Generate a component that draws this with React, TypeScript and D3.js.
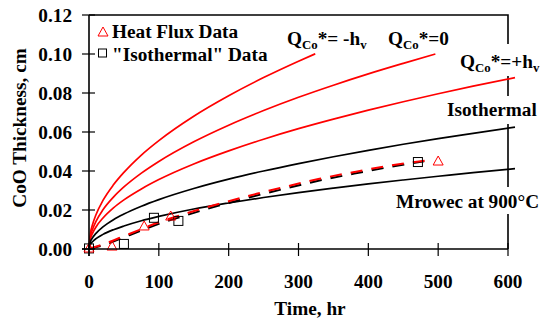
import React from 'react';
import * as d3 from 'd3';

// curve readings (time hr, thickness cm)
const negHvCurve: [number, number][] = [
  [0, 0], [2, 0.0079], [5, 0.0124], [10, 0.0176], [20, 0.0249], [35, 0.0329], [50, 0.0393],
  [75, 0.0482], [100, 0.0556], [150, 0.0681], [200, 0.0786], [250, 0.0879], [300, 0.0963], [324, 0.1001],
];
const zeroCurve: [number, number][] = [
  [0, 0], [2, 0.0064], [5, 0.01], [10, 0.0142], [20, 0.0201], [35, 0.0266], [50, 0.0318], [75, 0.0389],
  [100, 0.0449], [150, 0.055], [200, 0.0635], [250, 0.071], [300, 0.0778], [350, 0.084], [400, 0.0898],
  [450, 0.0952], [496, 0.1],
];
const posHvCurve: [number, number][] = [
  [0, 0], [2, 0.005], [5, 0.008], [10, 0.0113], [20, 0.0159], [35, 0.0211], [50, 0.0252], [75, 0.0308],
  [100, 0.0356], [150, 0.0436], [200, 0.0503], [250, 0.0563], [300, 0.0617], [350, 0.0666], [400, 0.0712],
  [450, 0.0755], [500, 0.0796], [550, 0.0835], [610, 0.0879],
];
const isothermalCurve: [number, number][] = [
  [0, 0], [2, 0.0036], [5, 0.0057], [10, 0.008], [20, 0.0113], [35, 0.015], [50, 0.0179], [75, 0.0219],
  [100, 0.0253], [150, 0.031], [200, 0.0358], [250, 0.04], [300, 0.0438], [350, 0.0473], [400, 0.0506],
  [450, 0.0537], [500, 0.0566], [550, 0.0593], [610, 0.0625],
];
const mrowecCurve: [number, number][] = [
  [0, 0], [2, 0.0024], [5, 0.0037], [10, 0.0053], [20, 0.0075], [35, 0.0099], [50, 0.0118], [75, 0.0145],
  [100, 0.0167], [150, 0.0205], [200, 0.0236], [250, 0.0264], [300, 0.0289], [350, 0.0312], [400, 0.0334],
  [450, 0.0354], [500, 0.0373], [550, 0.0392], [610, 0.0412],
];
const heatFluxFit: [number, number][] = [
  [0, 0], [25, 0.003], [50, 0.0066], [75, 0.0102], [100, 0.0137], [130, 0.0172], [165, 0.021], [200, 0.0245],
  [240, 0.0283], [280, 0.0318], [330, 0.036], [380, 0.0395], [430, 0.0427], [485, 0.0455],
];
const isothermalFit: [number, number][] = [
  [0, 0], [25, 0.0025], [50, 0.006], [75, 0.0095], [100, 0.0129], [130, 0.0163], [165, 0.0201], [200, 0.0236],
  [240, 0.0274], [280, 0.0309], [330, 0.0351], [380, 0.0387], [430, 0.042], [480, 0.045],
];

// measured points
const heatFluxData: [number, number][] = [[0, 0], [33, 0.001], [79, 0.0113], [117, 0.0164], [500, 0.0446]];
const isothermalData: [number, number][] = [[0, 0.0003], [50, 0.0026], [93, 0.016], [128, 0.0144], [471, 0.0446]];

const xTicks = [0, 100, 200, 300, 400, 500, 600];
const yTicks = [0, 0.02, 0.04, 0.06, 0.08, 0.1, 0.12];

const W = 542;
const H = 327;
const margin = { top: 15, right: 34, bottom: 78, left: 89 };
const FONT = '"Liberation Serif", "Times New Roman", serif';
const SX = 1.07;

const Txt = ({ x, y, anchor = 'start', size = 18, children }: any) => (
  <g transform={`translate(${x},${y}) scale(${SX},1)`}>
    <text textAnchor={anchor} fontFamily={FONT} fontWeight="bold" fontSize={size} fill="#000">
      {children}
    </text>
  </g>
);

const QLabel = ({ x, y, tail, sub }: any) => (
  <Txt x={x} y={y}>
    <tspan>Q</tspan>
    <tspan fontSize={12} dy={4}>Co</tspan>
    <tspan fontSize={18} dy={-4}>{tail}</tspan>
    {sub ? <tspan fontSize={12} dy={4}>v</tspan> : null}
  </Txt>
);

const App = () => {
  const x = d3.scaleLinear().domain([0, 600]).range([margin.left, W - margin.right]);
  const y = d3.scaleLinear().domain([0, 0.12]).range([H - margin.bottom, margin.top]);
  const line = d3.line<[number, number]>()
    .x(d => x(d[0]))
    .y(d => y(d[1]))
    .curve(d3.curveMonotoneX);

  const x0 = x(0), x1 = x(600), y0 = y(0), y1 = y(0.12);

  const tri = (cx: number, cy: number) => `M${cx},${cy - 5} L${cx + 5},${cy + 4} L${cx - 5},${cy + 4} Z`;

  return (
    <svg width={W} height={H} style={{ position: 'absolute', left: 0, top: 0, background: '#fff' }}>
      {/* frame */}
      <path d={`M${x0},${y1} L${x1},${y1} L${x1},${y0}`} fill="none" stroke="#000" strokeWidth={1.6} />

      {/* label backgrounds that break the right frame */}
      <rect x={456} y={44} width={86} height={32} fill="#fff" />
      <rect x={444} y={96} width={98} height={28} fill="#fff" />
      <rect x={393} y={187} width={149} height={27} fill="#fff" />

      {/* model curves */}
      <path d={line(negHvCurve)!} fill="none" stroke="#ff0000" strokeWidth={1.7} />
      <path d={line(zeroCurve)!} fill="none" stroke="#ff0000" strokeWidth={1.7} />
      <path d={line(posHvCurve)!} fill="none" stroke="#ff0000" strokeWidth={1.7} />
      <path d={line(isothermalCurve)!} fill="none" stroke="#000" strokeWidth={1.7} />
      <path d={line(mrowecCurve)!} fill="none" stroke="#000" strokeWidth={1.7} />

      {/* fits to data */}
      <path d={line(isothermalFit)!} fill="none" stroke="#000" strokeWidth={2} strokeDasharray="12,9" />
      <path d={line(heatFluxFit)!} fill="none" stroke="#ff0000" strokeWidth={2} strokeDasharray="12,9" />

      {/* data markers */}
      {isothermalData.map((d, i) => (
        <rect key={'s' + i} x={x(d[0]) - 4.5} y={y(d[1]) - 4.5} width={9} height={9}
          fill="none" stroke="#000" strokeWidth={1} />
      ))}
      {heatFluxData.map((d, i) => (
        <path key={'t' + i} d={tri(x(d[0]), y(d[1]) - 1)} fill="none" stroke="#ff0000" strokeWidth={1} />
      ))}

      {/* axes */}
      <line x1={x0} x2={x0} y1={y1} y2={y0 + 7} stroke="#000" strokeWidth={1.6} />
      <line x1={x0 - 7} x2={x1} y1={y0} y2={y0} stroke="#000" strokeWidth={1.6} />
      {yTicks.map(t => (
        <g key={'yt' + t}>
          <line x1={x0 - 7} x2={x0 + 6} y1={y(t)} y2={y(t)} stroke="#000" strokeWidth={1.2} />
          <Txt x={72} y={y(t) + 6.5} anchor="end">{t.toFixed(2)}</Txt>
        </g>
      ))}
      {xTicks.map(t => (
        <g key={'xt' + t}>
          <line x1={x(t)} x2={x(t)} y1={y0 - 6} y2={y0 + 7} stroke="#000" strokeWidth={1.2} />
          <Txt x={x(t)} y={288} anchor="middle">{t}</Txt>
        </g>
      ))}

      {/* axis titles */}
      <Txt x={310} y={315} anchor="middle">Time, hr</Txt>
      <g transform="translate(26,128) rotate(-90)">
        <Txt x={0} y={0} anchor="middle">CoO Thickness, cm</Txt>
      </g>

      {/* legend */}
      <path d={tri(103, 32)} fill="none" stroke="#ff0000" strokeWidth={1} />
      <Txt x={112} y={38}>Heat Flux Data</Txt>
      <rect x={98.5} y={49} width={8} height={8} fill="none" stroke="#000" strokeWidth={1} />
      <Txt x={112} y={61}>"Isothermal" Data</Txt>

      {/* curve labels */}
      <QLabel x={287} y={45} tail="*= -h" sub />
      <QLabel x={388} y={45} tail="*=0" />
      <QLabel x={460} y={68} tail="*=+h" sub />
      <Txt x={447} y={116}>Isothermal</Txt>
      <Txt x={396} y={208}>Mrowec at 900°C</Txt>
    </svg>
  );
};

export default App;
